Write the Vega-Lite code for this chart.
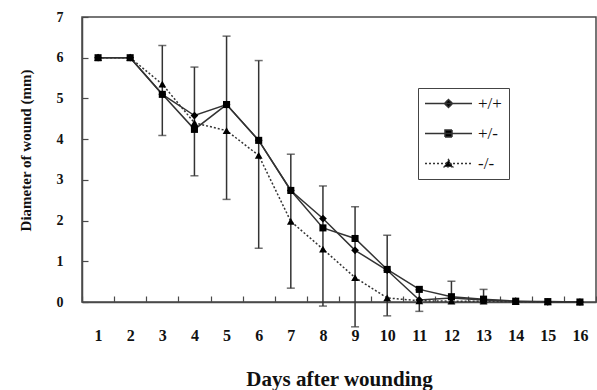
{
  "$schema": "https://vega.github.io/schema/vega-lite/v6.json",
  "width": 514,
  "height": 285,
  "autosize": "none",
  "padding": {"left": 82, "top": 17, "right": 1, "bottom": 88},
  "background": "white",
  "config": {
    "view": {"stroke": "#4a4a4a", "strokeWidth": 1.5},
    "axis": {
      "grid": false,
      "labelFont": "Liberation Serif",
      "titleFont": "Liberation Serif",
      "labelFontWeight": "bold",
      "titleFontWeight": "bold",
      "labelColor": "#111",
      "titleColor": "#111",
      "domainColor": "#4a4a4a",
      "domainWidth": 1.5,
      "tickColor": "#4a4a4a",
      "tickWidth": 1.2,
      "tickSize": -6
    },
    "legend": {
      "orient": "none",
      "legendX": 336,
      "legendY": 71,
      "direction": "vertical",
      "strokeColor": "#444",
      "fillColor": "white",
      "padding": 7,
      "labelFont": "Liberation Serif",
      "labelFontSize": 17,
      "labelColor": "#111",
      "symbolSize": 100,
      "symbolOffset": 15,
      "labelOffset": 21,
      "rowPadding": 12,
      "symbolOpacity": 1,
      "symbolFillColor": "black",
      "symbolStrokeWidth": 1.5
    }
  },
  "datasets": {
    "means": [
      {"day": 1, "genotype": "+/+", "value": 6}, {"day": 1, "genotype": "+/-", "value": 6}, {"day": 1, "genotype": "-/-", "value": 6},
      {"day": 2, "genotype": "+/+", "value": 6}, {"day": 2, "genotype": "+/-", "value": 6}, {"day": 2, "genotype": "-/-", "value": 6},
      {"day": 3, "genotype": "+/+", "value": 5.1}, {"day": 3, "genotype": "+/-", "value": 5.1}, {"day": 3, "genotype": "-/-", "value": 5.35},
      {"day": 4, "genotype": "+/+", "value": 4.58}, {"day": 4, "genotype": "+/-", "value": 4.24}, {"day": 4, "genotype": "-/-", "value": 4.4},
      {"day": 5, "genotype": "+/+", "value": 4.85}, {"day": 5, "genotype": "+/-", "value": 4.85}, {"day": 5, "genotype": "-/-", "value": 4.21},
      {"day": 6, "genotype": "+/+", "value": 3.97}, {"day": 6, "genotype": "+/-", "value": 3.97}, {"day": 6, "genotype": "-/-", "value": 3.6},
      {"day": 7, "genotype": "+/+", "value": 2.74}, {"day": 7, "genotype": "+/-", "value": 2.74}, {"day": 7, "genotype": "-/-", "value": 1.98},
      {"day": 8, "genotype": "+/+", "value": 2.05}, {"day": 8, "genotype": "+/-", "value": 1.82}, {"day": 8, "genotype": "-/-", "value": 1.3},
      {"day": 9, "genotype": "+/+", "value": 1.27}, {"day": 9, "genotype": "+/-", "value": 1.56}, {"day": 9, "genotype": "-/-", "value": 0.6},
      {"day": 10, "genotype": "+/+", "value": 0.78}, {"day": 10, "genotype": "+/-", "value": 0.8}, {"day": 10, "genotype": "-/-", "value": 0.1},
      {"day": 11, "genotype": "+/+", "value": 0.05}, {"day": 11, "genotype": "+/-", "value": 0.31}, {"day": 11, "genotype": "-/-", "value": 0.03},
      {"day": 12, "genotype": "+/+", "value": 0.1}, {"day": 12, "genotype": "+/-", "value": 0.13}, {"day": 12, "genotype": "-/-", "value": 0.02},
      {"day": 13, "genotype": "+/+", "value": 0.05}, {"day": 13, "genotype": "+/-", "value": 0.07}, {"day": 13, "genotype": "-/-", "value": 0.02},
      {"day": 14, "genotype": "+/+", "value": 0.02}, {"day": 14, "genotype": "+/-", "value": 0.02}, {"day": 14, "genotype": "-/-", "value": 0.01},
      {"day": 15, "genotype": "+/+", "value": 0}, {"day": 15, "genotype": "+/-", "value": 0.01}, {"day": 15, "genotype": "-/-", "value": 0},
      {"day": 16, "genotype": "+/+", "value": 0}, {"day": 16, "genotype": "+/-", "value": 0}, {"day": 16, "genotype": "-/-", "value": 0}
    ],
    "bars": [
      {"day": 3, "lo": 4.09, "hi": 6.3},
      {"day": 4, "lo": 3.1, "hi": 5.77},
      {"day": 5, "lo": 2.52, "hi": 6.53},
      {"day": 6, "lo": 1.32, "hi": 5.93},
      {"day": 7, "lo": 0.34, "hi": 3.63},
      {"day": 8, "lo": -0.1, "hi": 2.85},
      {"day": 9, "lo": -0.61, "hi": 2.34},
      {"day": 10, "lo": -0.34, "hi": 1.64},
      {"day": 11, "lo": -0.23, "hi": 0.3},
      {"day": 12, "lo": -0.02, "hi": 0.51},
      {"day": 13, "lo": -0.02, "hi": 0.31}
    ]
  },
  "encoding": {
    "x": {
      "field": "day",
      "type": "ordinal",
      "scale": {"type": "band", "paddingInner": 0, "paddingOuter": 0},
      "axis": {
        "title": "Days after wounding",
        "titleFontSize": 21,
        "labelFontSize": 16,
        "labelAngle": 0,
        "labelPadding": 31,
        "tickBand": "extent",
        "titleBaseline": "top",
        "titleY": 66
      }
    }
  },
  "layer": [
    {
      "data": {"name": "bars"},
      "mark": {"type": "rule", "color": "#333", "strokeWidth": 1.5},
      "encoding": {
        "y": {"field": "lo", "type": "quantitative", "scale": {"domain": [0, 7], "nice": false},
          "axis": {
            "values": [0, 1, 2, 3, 4, 5, 6, 7],
            "title": "Diameter of wound (mm)",
            "titleFontSize": 15,
            "labelFontSize": 14,
            "labelPadding": 25,
            "titleAngle": 270,
            "titleAlign": "center",
            "titleBaseline": "bottom",
            "titleX": -49,
            "titleY": 133
          }},
        "y2": {"field": "hi"}
      }
    },
    {
      "data": {"name": "bars"},
      "mark": {"type": "tick", "orient": "horizontal", "size": 8, "thickness": 1.5, "color": "#333"},
      "encoding": {"y": {"field": "lo", "type": "quantitative"}}
    },
    {
      "data": {"name": "bars"},
      "mark": {"type": "tick", "orient": "horizontal", "size": 8, "thickness": 1.5, "color": "#333"},
      "encoding": {"y": {"field": "hi", "type": "quantitative"}}
    },
    {
      "data": {"name": "means"},
      "transform": [{"filter": "datum.genotype !== '-/-'"}],
      "mark": {"type": "line", "color": "#333", "strokeWidth": 1.5},
      "encoding": {
        "y": {"field": "value", "type": "quantitative"},
        "detail": {"field": "genotype"}
      }
    },
    {
      "data": {"name": "means"},
      "transform": [{"filter": "datum.genotype === '-/-'"}],
      "mark": {"type": "line", "color": "#333", "strokeWidth": 1.5, "strokeDash": [2, 2]},
      "encoding": {"y": {"field": "value", "type": "quantitative"}}
    },
    {
      "data": {"name": "means"},
      "transform": [{"filter": "datum.genotype === '+/+'"}],
      "mark": {"type": "point", "shape": "diamond", "filled": true, "color": "black", "opacity": 1, "size": 60},
      "encoding": {"y": {"field": "value", "type": "quantitative"}}
    },
    {
      "data": {"name": "means"},
      "transform": [{"filter": "datum.genotype === '+/-'"}],
      "mark": {"type": "point", "shape": "square", "filled": true, "color": "black", "opacity": 1, "size": 50},
      "encoding": {"y": {"field": "value", "type": "quantitative"}}
    },
    {
      "data": {"name": "means"},
      "transform": [{"filter": "datum.genotype === '-/-'"}],
      "mark": {"type": "point", "shape": "triangle-up", "filled": true, "color": "black", "opacity": 1, "size": 60},
      "encoding": {"y": {"field": "value", "type": "quantitative"}}
    },
    {
      "data": {"name": "means"},
      "transform": [{"filter": "datum.day === 1"}],
      "mark": {"type": "point", "filled": false, "fill": "black", "stroke": "#333", "strokeWidth": 1.5, "opacity": 0},
      "encoding": {
        "y": {"field": "value", "type": "quantitative"},
        "shape": {"field": "genotype", "type": "nominal",
          "scale": {"domain": ["+/+", "+/-", "-/-"], "range": [
            "M-4.7,0H4.7M0,-0.8L0.8,0L0,0.8L-0.8,0Z",
            "M-4.7,0H4.7M-0.7,-0.7H0.7V0.7H-0.7Z",
            "M-4.7,0H4.7M0,-0.75L0.85,0.65H-0.85Z"
          ]},
          "legend": {"title": null}},
        "strokeDash": {"field": "genotype", "type": "nominal",
          "scale": {"domain": ["+/+", "+/-", "-/-"], "range": [[1, 0], [1, 0], [2, 2]]},
          "legend": {"title": null}}
      }
    }
  ]
}
